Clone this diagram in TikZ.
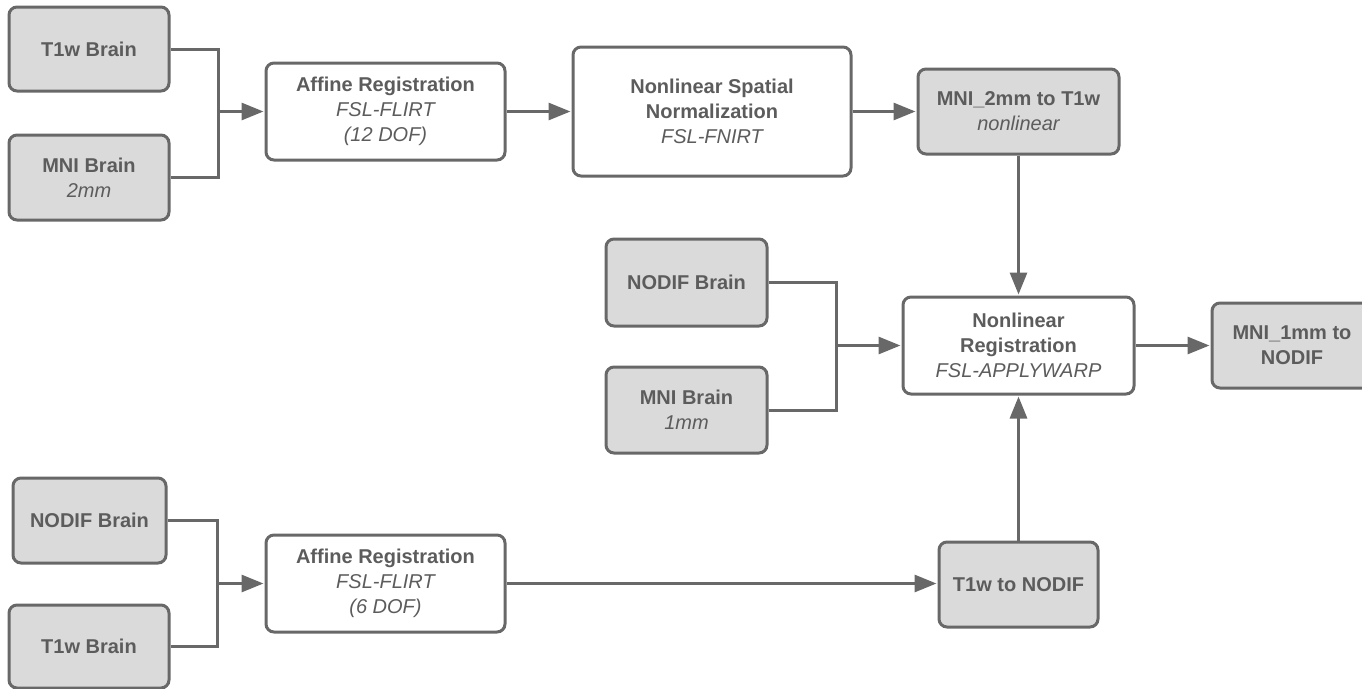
\documentclass[tikz,border=0pt]{standalone}
\usepackage{fontspec}
\setmainfont{Liberation Sans}
\usetikzlibrary{arrows.meta}
\definecolor{edgegray}{RGB}{104,104,104}
\definecolor{boxfill}{RGB}{218,218,218}
\definecolor{txtgray}{RGB}{92,92,92}
\tikzset{
  basebox/.style={draw=edgegray, line width=3pt, rounded corners=8pt, align=center,
    text=txtgray, font=\fontsize{20}{25}\selectfont\bfseries, inner sep=0pt},
  databox/.style={basebox, fill=boxfill},
  procbox/.style={basebox, fill=white},
  conn/.style={draw=edgegray, line width=3pt},
  arr/.style={conn, -{Triangle[length=22pt,width=17pt]}, shorten >=1pt},
}
\newcommand{\sub}[1]{{\mdseries\itshape #1}}
\begin{document}
\begin{tikzpicture}[x=1pt,y=-1pt]
\useasboundingbox (0,0) rectangle (1362,688);
% top-left
\node[databox, minimum width=160pt, minimum height=84pt] (t1a) at (89,49) {T1w Brain};
\node[databox, minimum width=160pt, minimum height=85pt] (mni2) at (89,177.5) {MNI Brain\\\sub{2mm}};
\node[procbox, minimum width=239pt, minimum height=97pt] (aff1) at (385.5,111.5) {Affine Registration\\\sub{FSL-FLIRT}\\\sub{(12 DOF)}};
\node[procbox, minimum width=278pt, minimum height=129pt] (nsn) at (712,111.5) {Nonlinear Spatial\\Normalization\\\sub{FSL-FNIRT}};
\node[databox, minimum width=201pt, minimum height=85pt] (m2t) at (1018.5,111.5) {MNI\_2mm to T1w\\\sub{nonlinear}};
% middle
\node[databox, minimum width=161pt, minimum height=87pt] (nodif1) at (686.5,282.5) {NODIF Brain};
\node[databox, minimum width=161pt, minimum height=86pt] (mni1) at (686.5,410) {MNI Brain\\\sub{1mm}};
\node[procbox, minimum width=231pt, minimum height=97pt] (nlr) at (1018.5,345.5) {Nonlinear\\Registration\\\sub{FSL-APPLYWARP}};
\node[databox, minimum width=160pt, minimum height=85pt] (m1n) at (1292,345.5) {MNI\_1mm to\\NODIF};
% bottom
\node[databox, minimum width=153pt, minimum height=85pt] (nodif2) at (89.5,520.5) {NODIF Brain};
\node[databox, minimum width=160pt, minimum height=83pt] (t1b) at (89,646.5) {T1w Brain};
\node[procbox, minimum width=239pt, minimum height=97pt] (aff2) at (385.5,583.5) {Affine Registration\\\sub{FSL-FLIRT}\\\sub{(6 DOF)}};
\node[databox, minimum width=159pt, minimum height=85pt] (t2n) at (1018.5,584.5) {T1w to NODIF};
% junctions
\coordinate (j1) at (218,111.5);
\coordinate (j2) at (836,345.5);
\coordinate (j3) at (217,583.5);
% connectors
\draw[conn] (t1a.east) -| (j1);
\draw[conn] (mni2.east) -| (j1);
\draw[arr] (j1) -- (aff1.west);
\draw[arr] (aff1.east) -- (nsn.west);
\draw[arr] (nsn.east) -- (m2t.west);
\draw[arr] (m2t.south) -- (nlr.north);
\draw[conn] (nodif1.east) -| (j2);
\draw[conn] (mni1.east) -| (j2);
\draw[arr] (j2) -- (nlr.west);
\draw[arr] (nlr.east) -- (m1n.west);
\draw[conn] (nodif2.east) -| (j3);
\draw[conn] (t1b.east) -| (j3);
\draw[arr] (j3) -- (aff2.west);
\draw[arr] (aff2.east) -- (t2n.west |- aff2.east);
\draw[arr] (t2n.north) -- (nlr.south);
\end{tikzpicture}
\end{document}
